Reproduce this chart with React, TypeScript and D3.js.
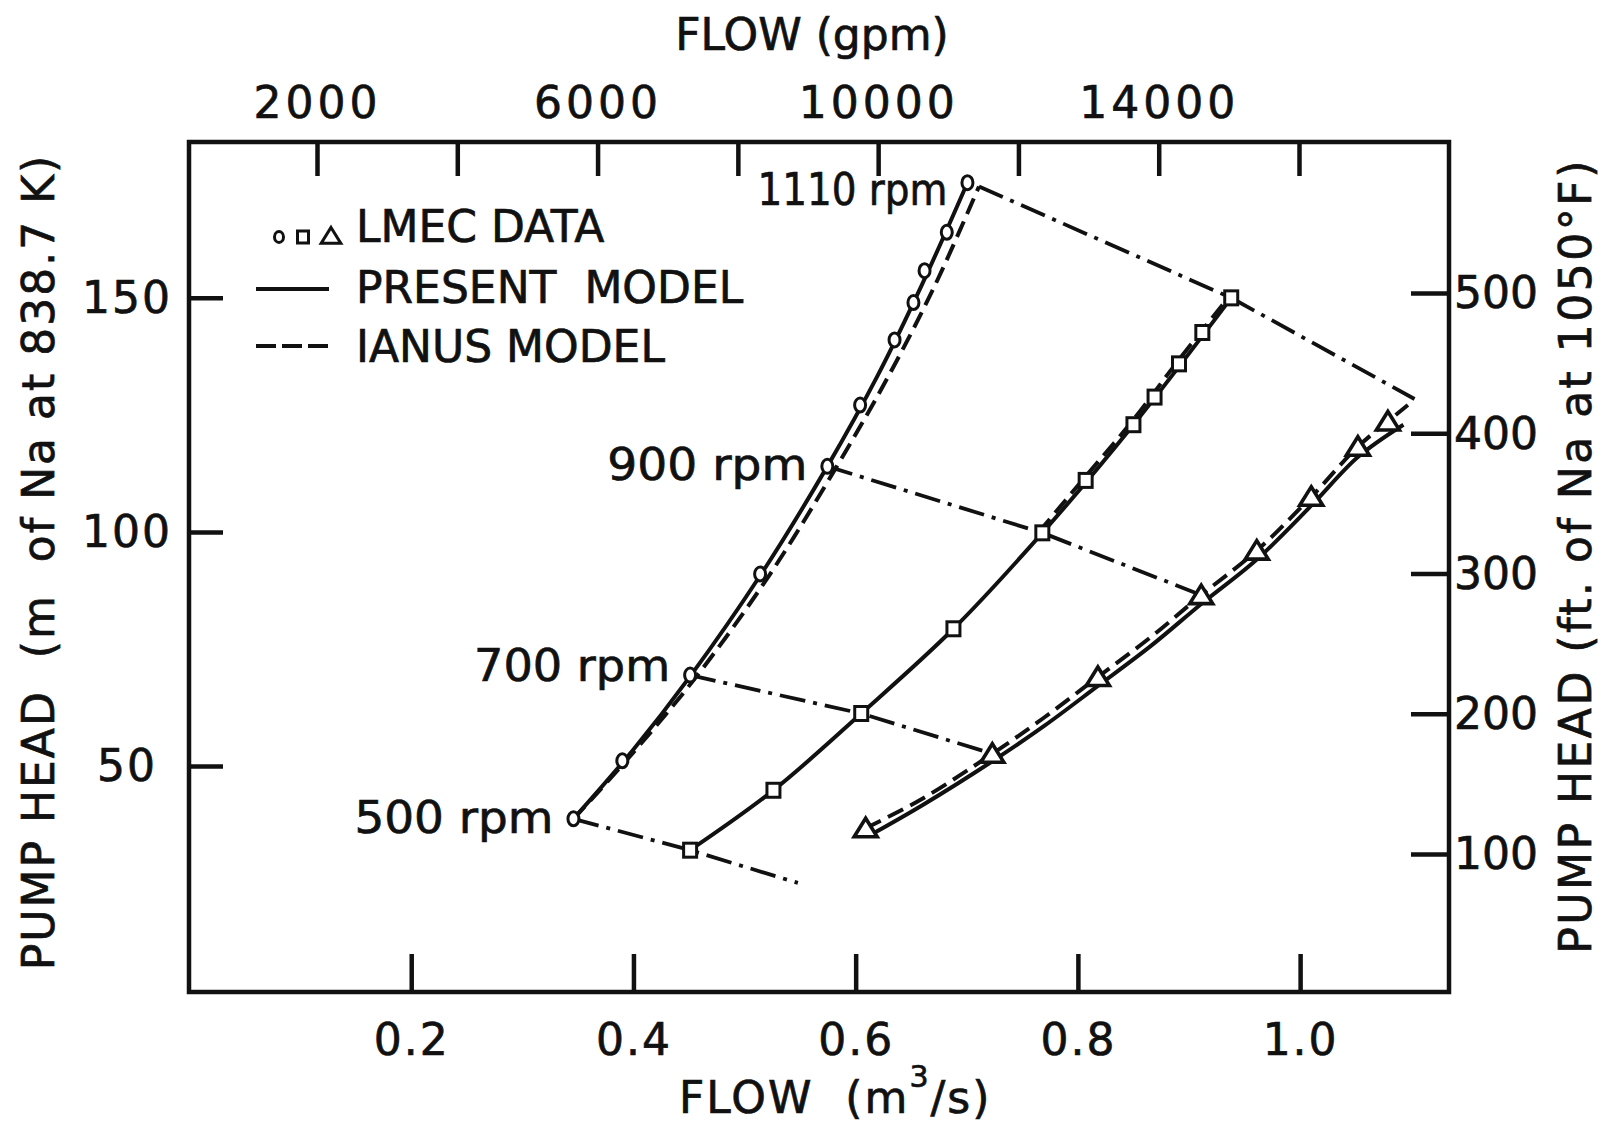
import React, { useRef, useEffect } from "react";
import * as d3 from "d3";

const W = 1602;
const H = 1126;
const INK = "#111";
const FONT = "'DejaVu Sans', Verdana, sans-serif";

// axis ticks
const flowTicks = [0.2, 0.4, 0.6, 0.8, 1.0];
const gpmTicks = [2000, 4000, 6000, 8000, 10000, 12000, 14000, 16000];
const gpmLabels = [2000, 6000, 10000, 14000];
const headMTicks = [50, 100, 150];
const headFtTicks = [100, 200, 300, 400, 500];

// LMEC data (flow m3/s, head m)
const circleFlow = [0.346, 0.39, 0.451, 0.514, 0.5745, 0.604, 0.635, 0.652, 0.662, 0.682, 0.7006];
const circleHead = [38.7, 51.1, 69.4, 91.0, 114.0, 127.1, 141.0, 149.0, 155.8, 164.0, 174.6];
const squareFlow = [0.451, 0.526, 0.605, 0.688, 0.768, 0.807, 0.85, 0.869, 0.891, 0.912, 0.938];
const squareHead = [32.0, 44.8, 61.2, 79.3, 99.8, 111.0, 122.9, 128.8, 135.9, 142.6, 150.0];
const triFlow = [0.609, 0.723, 0.818, 0.911, 0.961, 1.01, 1.052, 1.079];
const triHead = [36.7, 52.6, 69.0, 86.5, 96.0, 107.5, 118.2, 123.6];

// present model curves
const presentAFlow = [0.346, 0.4, 0.45, 0.515, 0.5745, 0.62, 0.66, 0.7006];
const presentAHead = [38.7, 53.5, 68.8, 91.0, 114.0, 133.5, 153.0, 174.6];
const presentBFlow = [0.451, 0.526, 0.605, 0.688, 0.768, 0.85, 0.938];
const presentBHead = [32.0, 44.8, 61.2, 79.3, 99.8, 122.9, 150.0];
const presentCFlow = [0.616, 0.66, 0.723, 0.77, 0.818, 0.866, 0.911, 0.961, 1.01, 1.052, 1.093];
const presentCHead = [35.6, 41.6, 51.0, 58.6, 67.1, 75.7, 84.6, 94.1, 105.6, 116.0, 122.9];

// IANUS model curves
const ianusAFlow = [0.346, 0.393, 0.457, 0.523, 0.583, 0.63, 0.672, 0.711];
const ianusAHead = [38.7, 51.0, 69.2, 91.0, 114.0, 133.5, 153.0, 173.8];
const ianusBFlow = [0.765, 0.805, 0.848, 0.89, 0.936];
const ianusBHead = [100.0, 111.3, 123.4, 136.5, 150.2];
const ianusCFlow = [0.609, 0.66, 0.723, 0.77, 0.818, 0.866, 0.911, 0.961, 1.01, 1.052, 1.079, 1.097];
const ianusCHead = [36.7, 43.0, 52.6, 60.4, 69.0, 77.6, 86.5, 96.0, 107.5, 118.2, 123.6, 127.1];

// constant speed lines
const rpmNames = ["500 rpm", "700 rpm", "900 rpm", "1110 rpm"];
const rpmFlow = [
  [0.346, 0.451, 0.548],
  [0.451, 0.605, 0.723],
  [0.5745, 0.768, 0.911],
  [0.711, 0.938, 1.103],
];
const rpmHead = [
  [38.7, 32.0, 25.0],
  [69.4, 61.2, 52.6],
  [114.0, 99.8, 86.5],
  [173.8, 150.0, 128.4],
];
const rpmLabelFlow = [0.346, 0.451, 0.5745, 0.7006];
const rpmLabelHead = [38.7, 69.4, 114.0, 174.6];
const rpmLabelDy = [14, 6, 14, 22];
const rpmLabelLen = [199, 196, 200, 190];

const zip = (a: number[], b: number[]) => a.map((v, i) => [v, b[i]] as [number, number]);

export default function App() {
  const ref = useRef<SVGSVGElement>(null);

  useEffect(() => {
    const svg = d3.select(ref.current);
    svg.selectAll("*").remove();

    const x = d3.scaleLinear().domain([0, 1.134]).range([189, 1449]);
    const y = d3.scaleLinear().domain([1.7, 183.3]).range([992, 142]);
    const gpm = d3.scaleLinear().domain([2000, 16000]).range([317, 1299]);
    const ft = d3.scaleLinear().domain([100, 500]).range([854, 293]);

    const [left, right] = x.range();
    const [bottom, top] = y.range();

    const styleAxis = (g: any) => {
      g.select(".domain").remove();
      g.selectAll("line").attr("stroke", INK).attr("stroke-width", 4.5);
      g.selectAll("text")
        .attr("fill", INK)
        .attr("stroke", INK)
        .attr("stroke-width", 0.7)
        .attr("font-family", FONT)
        .attr("font-size", 44);
    };

    // bottom axis
    svg
      .append("g")
      .attr("transform", `translate(0,${bottom})`)
      .call(
        d3.axisBottom(x).tickValues(flowTicks).tickSize(-38).tickSizeOuter(0).tickFormat(d3.format(".1f"))
      )
      .call(styleAxis)
      .call((g: any) => g.selectAll("text").attr("y", 63).attr("dy", null).attr("letter-spacing", 2));

    // top axis (gpm)
    svg
      .append("g")
      .attr("transform", `translate(0,${top})`)
      .call(
        d3
          .axisTop(gpm)
          .tickValues(gpmTicks)
          .tickSize(-34)
          .tickSizeOuter(0)
          .tickFormat((d: any) => (gpmLabels.includes(d) ? String(d) : ""))
      )
      .call(styleAxis)
      .call((g: any) =>
        g.selectAll("text").attr("y", -24).attr("dy", null).attr("letter-spacing", 4)
      );

    // left axis (m)
    svg
      .append("g")
      .attr("transform", `translate(${left},0)`)
      .call(d3.axisLeft(y).tickValues(headMTicks).tickSize(-34).tickSizeOuter(0))
      .call(styleAxis)
      .call((g: any) =>
        g
          .selectAll("text")
          .attr("x", -62)
          .attr("dy", "0.34em")
          .attr("text-anchor", "middle")
          .attr("letter-spacing", 2)
      );

    // right axis (ft)
    svg
      .append("g")
      .attr("transform", `translate(${right},0)`)
      .call(d3.axisRight(ft).tickValues(headFtTicks).tickSize(-38).tickSizeOuter(0))
      .call(styleAxis)
      .call((g: any) =>
        g.selectAll("text").attr("x", 5).attr("dy", "0.34em").attr("text-anchor", "start")
      );

    // frame
    svg
      .append("rect")
      .attr("x", left)
      .attr("y", top)
      .attr("width", right - left)
      .attr("height", bottom - top)
      .attr("fill", "none")
      .attr("stroke", INK)
      .attr("stroke-width", 4.5);

    const smooth = d3
      .line<[number, number]>()
      .x((d) => x(d[0]))
      .y((d) => y(d[1]))
      .curve(d3.curveCatmullRom.alpha(0.5));
    const straight = d3
      .line<[number, number]>()
      .x((d) => x(d[0]))
      .y((d) => y(d[1]));

    const curves = svg.append("g").attr("fill", "none").attr("stroke", INK);

    // constant speed dash-dot lines
    rpmFlow.forEach((f, i) => {
      curves
        .append("path")
        .attr("d", straight(zip(f, rpmHead[i])))
        .attr("stroke-width", 3.8)
        .attr("stroke-dasharray", "26 8 4 8");
    });

    // present model (solid)
    [
      zip(presentAFlow, presentAHead),
      zip(presentBFlow, presentBHead),
      zip(presentCFlow, presentCHead),
    ].forEach((p) => {
      curves.append("path").attr("d", smooth(p)).attr("stroke-width", 4);
    });

    // IANUS model (dashed)
    [
      zip(ianusAFlow, ianusAHead),
      zip(ianusBFlow, ianusBHead),
      zip(ianusCFlow, ianusCHead),
    ].forEach((p) => {
      curves
        .append("path")
        .attr("d", smooth(p))
        .attr("stroke-width", 4)
        .attr("stroke-dasharray", "17 8");
    });

    // markers
    const marks = svg.append("g").attr("fill", "#fff").attr("stroke", INK).attr("stroke-width", 3);
    const triPath = "M0,-10L11.5,8.5L-11.5,8.5Z";

    marks
      .selectAll("ellipse")
      .data(zip(circleFlow, circleHead))
      .join("ellipse")
      .attr("cx", (d) => x(d[0]))
      .attr("cy", (d) => y(d[1]))
      .attr("rx", 5.5)
      .attr("ry", 7);

    marks
      .selectAll("rect")
      .data(zip(squareFlow, squareHead))
      .join("rect")
      .attr("x", (d) => x(d[0]) - 6.5)
      .attr("y", (d) => y(d[1]) - 7)
      .attr("width", 13)
      .attr("height", 14);

    marks
      .selectAll("path")
      .data(zip(triFlow, triHead))
      .join("path")
      .attr("d", triPath)
      .attr("stroke-width", 3.6)
      .attr("transform", (d) => `translate(${x(d[0])},${y(d[1])})`);

    const text = (tx: number, ty: number, s: string, anchor = "start", ls = 0) =>
      svg
        .append("text")
        .attr("x", tx)
        .attr("y", ty)
        .attr("fill", INK)
        .attr("stroke", INK)
        .attr("stroke-width", 0.7)
        .attr("font-family", FONT)
        .attr("font-size", 44)
        .attr("text-anchor", anchor)
        .attr("letter-spacing", ls)
        .attr("xml:space", "preserve")
        .text(s);

    // rpm labels
    rpmNames.forEach((s, i) => {
      text(x(rpmLabelFlow[i]) - 20, y(rpmLabelHead[i]) + rpmLabelDy[i], s, "end")
        .attr("textLength", rpmLabelLen[i])
        .attr("lengthAdjust", "spacingAndGlyphs");
    });

    // legend
    const lg = svg.append("g").attr("stroke", INK).attr("fill", "#fff");
    lg.append("ellipse").attr("cx", 279).attr("cy", 237).attr("rx", 4.5).attr("ry", 5.5).attr("stroke-width", 3);
    lg.append("rect").attr("x", 297.5).attr("y", 231).attr("width", 11).attr("height", 12).attr("stroke-width", 3);
    lg.append("path").attr("d", triPath).attr("transform", "translate(331,236) scale(0.85)").attr("stroke-width", 3.6);
    lg.append("line").attr("x1", 256).attr("x2", 329).attr("y1", 289).attr("y2", 289).attr("stroke-width", 4);
    lg.append("line")
      .attr("x1", 256)
      .attr("x2", 329)
      .attr("y1", 346)
      .attr("y2", 346)
      .attr("stroke-width", 4)
      .attr("stroke-dasharray", "20 6");
    text(356, 242, "LMEC DATA");
    text(356, 303, "PRESENT  MODEL");
    text(356, 362, "IANUS MODEL");

    // axis titles
    text(812, 50, "FLOW (gpm)", "middle");
    const bt = text(679, 1113, "FLOW  (m", "start", 2);
    bt.append("tspan").attr("dy", -26).attr("font-size", 30).text("3");
    bt.append("tspan").attr("dy", 26).text("/s)");

    text(0, 0, "PUMP HEAD  (m  of Na at 838.7 K)", "middle", 2).attr(
      "transform",
      "translate(54,562) rotate(-90)"
    );
    text(0, 0, "PUMP HEAD (ft. of Na at 1050°F)", "middle", 2.5).attr(
      "transform",
      "translate(1591,556) rotate(-90)"
    );
  }, []);

  return (
    <div style={{ position: "absolute", left: 0, top: 0 }}>
      <svg ref={ref} width={W} height={H} style={{ display: "block", background: "#fff" }} />
    </div>
  );
}
